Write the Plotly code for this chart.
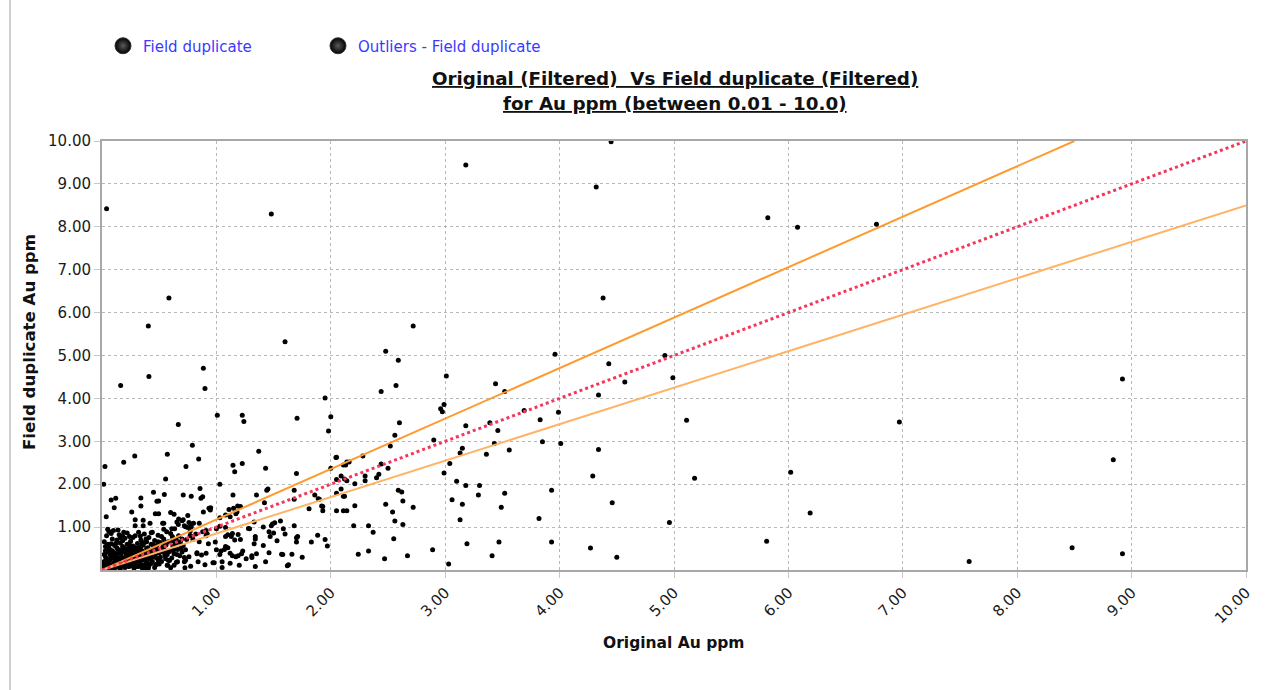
import plotly.graph_objects as go

# ---------------- data ----------------
# scattered points (Original Au ppm, Field duplicate Au ppm)
spread_x = [0.04, 1.48, 3.18, 4.45, 4.32, 5.82, 6.08, 6.77, 0.585, 4.38, 0.405, 2.72, 1.60, 2.48, 2.59, 3.96, 4.92, 4.43,
            0.886, 0.41, 3.01, 4.99, 8.92, 0.163, 2.57, 3.44, 4.57, 0.90, 2.44, 3.52, 4.34, 1.95,
            1.008, 1.226, 1.24, 1.705, 2.00, 0.667, 1.98, 2.96, 2.975, 2.99, 3.69, 3.99, 3.83, 5.11, 6.97, 2.60, 3.18, 3.39, 3.46, 2.56,
            0.79, 2.52, 2.90, 3.43, 3.85, 4.01, 3.15, 3.13, 3.36, 3.56, 4.34, 1.37, 0.286, 0.571, 2.05, 2.28, 2.045, 8.84,
            0.19, 0.845, 0.026, 0.734, 1.145, 1.226, 1.43, 2.00, 2.11, 2.14, 2.44, 2.50, 3.04, 1.16, 1.70, 2.99, 4.29, 6.02, 5.18,
            0.556, 2.09, 2.05, 2.14, 2.30, 2.30, 2.42, 2.40, 3.10, 0.015, 1.03, 2.21, 3.18, 3.30, 3.93, 2.59, 2.62, 3.52, 3.29,
            2.11, 3.06, 4.46, 2.48, 2.63, 3.15, 2.21, 2.72, 3.49, 2.11, 2.14, 2.54, 6.19, 3.82, 3.13, 2.56, 4.96, 2.63, 2.33,
            2.20, 2.37, 2.55, 5.81, 3.93, 3.47, 3.19, 4.27, 8.48, 2.89, 2.33, 8.92, 2.24, 2.67, 3.41, 4.50, 2.47, 7.58, 3.03]
spread_y = [8.42, 8.30, 9.44, 9.98, 8.93, 8.21, 7.99, 8.06, 6.34, 6.34, 5.69, 5.69, 5.32, 5.10, 4.89, 5.03, 5.00, 4.81,
            4.70, 4.51, 4.52, 4.48, 4.45, 4.30, 4.30, 4.34, 4.38, 4.23, 4.16, 4.16, 4.08, 4.01,
            3.61, 3.61, 3.46, 3.54, 3.57, 3.39, 3.24, 3.76, 3.69, 3.86, 3.72, 3.68, 3.50, 3.49, 3.45, 3.43, 3.36, 3.43, 3.25, 3.14,
            2.91, 2.89, 3.03, 2.95, 2.99, 2.95, 2.84, 2.73, 2.70, 2.80, 2.81, 2.77, 2.66, 2.70, 2.63, 2.66, 2.62, 2.57,
            2.51, 2.59, 2.41, 2.41, 2.44, 2.48, 2.37, 2.37, 2.45, 2.52, 2.47, 2.37, 2.48, 2.29, 2.25, 2.26, 2.19, 2.28, 2.14,
            2.12, 2.19, 2.11, 2.08, 2.19, 2.08, 2.23, 2.15, 2.07, 2.00, 2.00, 2.01, 1.97, 1.97, 1.86, 1.86, 1.82, 1.79, 1.75,
            1.72, 1.64, 1.57, 1.53, 1.61, 1.53, 1.50, 1.46, 1.46, 1.38, 1.38, 1.35, 1.33, 1.20, 1.17, 1.14, 1.11, 1.06, 1.03,
            1.03, 0.88, 0.73, 0.67, 0.65, 0.65, 0.61, 0.51, 0.52, 0.47, 0.44, 0.38, 0.37, 0.33, 0.33, 0.30, 0.26, 0.20, 0.14]

mid_x = [0.08, 0.12, 0.107, 0.037, 0.34, 0.34, 0.45, 0.26, 0.29, 0.29, 0.36, 0.36, 0.545, 0.495, 0.466, 0.495, 0.60, 0.63,
         0.71, 0.78, 0.88, 0.857, 0.935, 0.95, 0.886, 0.75, 0.67, 0.70, 0.61, 0.635, 0.53, 0.565, 0.42, 0.43, 0.72, 0.73,
         0.77, 0.79, 0.82, 0.88, 0.92, 0.80, 1.03, 1.00, 1.08, 1.15, 1.17, 1.12, 1.21, 1.13, 1.19, 1.28, 1.34, 1.41, 1.48,
         1.49, 1.35, 1.44, 1.45, 1.68, 1.70, 1.70, 1.53, 1.57, 1.66, 1.75, 1.63, 1.83, 1.885, 1.93, 1.93, 1.95, 1.97, 1.86,
         1.89, 1.81, 2.05, 2.09, 2.12, 2.05, 2.16, 2.13, 2.12, 1.585, 1.60, 1.50, 1.47, 1.41, 1.46, 1.35, 1.43, 1.26, 1.34,
         1.17, 1.22, 1.12, 1.12, 1.08, 1.00, 0.98, 1.05, 0.91, 0.90, 0.93, 0.83, 0.84, 0.775, 0.73, 0.73, 0.76, 0.66, 0.60,
         0.69, 0.57, 0.58, 0.48, 0.495, 0.41, 0.40, 0.37, 0.405, 0.70, 0.77, 0.61, 0.52, 0.55, 0.54, 0.655, 0.65,
         1.145, 1.186, 1.18, 1.42, 1.68, 1.68, 1.92, 1.90, 1.11, 1.08, 1.03, 1.29, 1.33, 1.46, 1.51, 1.56, 1.08, 1.10, 1.14,
         1.16, 1.21, 1.34, 1.71, 1.04, 1.07, 1.10, 1.23, 1.33, 1.14, 1.19, 1.31, 1.31, 1.20, 1.58, 1.62, 0.99,
         0.48, 0.865, 0.54, 0.54, 0.667, 0.655, 0.71, 0.76, 0.78, 0.947, 0.05, 0.18, 0.24, 0.335, 0.385, 0.615, 0.75, 0.78,
         0.85, 0.91, 0.91, 0.85, 0.795, 0.685, 0.71, 0.74, 0.83, 0.87, 0.97, 0.725, 0.62, 0.63, 0.72, 0.556, 0.575, 0.376,
         1.03, 1.05]
mid_y = [1.63, 1.67, 1.45, 1.24, 1.68, 1.49, 1.81, 1.35, 1.17, 1.03, 1.16, 1.03, 1.76, 1.61, 1.31, 1.31, 1.34, 1.30,
         1.75, 1.72, 1.71, 1.90, 1.44, 1.45, 1.35, 1.27, 1.19, 1.15, 0.96, 0.96, 1.09, 0.89, 1.09, 0.87, 1.03, 1.01,
         0.90, 0.78, 0.84, 0.89, 0.84, 1.09, 1.02, 0.96, 0.99, 1.44, 1.31, 1.24, 1.48, 0.78, 0.83, 0.97, 0.78, 1.00, 1.03,
         1.07, 1.75, 1.86, 1.89, 1.03, 0.75, 0.65, 0.68, 0.37, 0.37, 0.30, 0.12, 0.65, 0.81, 1.48, 1.38, 0.71, 0.56, 1.75,
         1.66, 1.43, 1.79, 1.89, 1.72, 1.38, 2.52, 2.45, 2.12, 0.96, 0.84, 0.86, 0.78, 0.57, 0.40, 0.38, 0.19, 0.26, 0.08,
         0.31, 0.38, 0.39, 0.16, 0.55, 0.47, 0.17, 0.06, 0.39, 0.12, 0.61, 0.38, 0.19, 0.09, 0.23, 0.47, 0.31, 0.19, 0.05,
         0.51, 0.42, 0.23, 0.14, 0.24, 0.40, 0.25, 0.08, 0.04, 0.72, 0.80, 0.68, 0.78, 0.64, 0.50, 0.36, 0.63,
         1.75, 1.49, 1.35, 1.57, 1.86, 1.65, 1.49, 1.65, 1.41, 1.28, 1.22, 0.96, 1.12, 0.89, 1.10, 1.14, 0.78, 0.82, 0.85,
         0.70, 0.71, 0.72, 0.78, 0.44, 0.48, 0.52, 0.44, 0.61, 0.33, 0.33, 0.33, 0.29, 0.11, 0.36, 0.10, 0.65,
         1.60, 1.67, 1.09, 0.95, 1.06, 1.12, 1.17, 1.11, 1.07, 1.40, 0.95, 0.79, 0.78, 0.79, 0.72, 0.78, 0.99, 1.01,
         1.09, 0.92, 0.80, 0.66, 0.71, 0.65, 0.57, 0.71, 0.40, 0.35, 0.17, 0.05, 0.47, 0.11, 0.19, 0.26, 0.11, 0.04,
         0.36, 0.19]

cluster_x = [0.01, 0.02, 0.03, 0.04, 0.05, 0.06, 0.07, 0.08, 0.09, 0.10, 0.11, 0.12, 0.13, 0.14, 0.15, 0.16, 0.17, 0.18, 0.19, 0.20,
             0.21, 0.22, 0.23, 0.24, 0.25, 0.26, 0.27, 0.28, 0.29, 0.30, 0.31, 0.32, 0.33, 0.34, 0.35, 0.36, 0.37, 0.38, 0.39, 0.40,
             0.41, 0.42, 0.43, 0.44, 0.45, 0.46, 0.47, 0.48, 0.49, 0.50, 0.02, 0.03, 0.04, 0.05, 0.06, 0.07, 0.08, 0.09, 0.10, 0.11,
             0.12, 0.13, 0.14, 0.15, 0.16, 0.17, 0.18, 0.19, 0.20, 0.21, 0.22, 0.23, 0.24, 0.25, 0.26, 0.27, 0.28, 0.29, 0.30, 0.31,
             0.32, 0.33, 0.34, 0.35, 0.36, 0.37, 0.38, 0.39, 0.40, 0.41, 0.42, 0.43, 0.44, 0.45, 0.46, 0.47, 0.48, 0.49, 0.50, 0.51,
             0.52, 0.53, 0.54, 0.55, 0.56, 0.57, 0.58, 0.59, 0.60, 0.61, 0.62, 0.63, 0.64, 0.65, 0.66, 0.67, 0.68, 0.69, 0.70, 0.72,
             0.01, 0.02, 0.03, 0.04, 0.05, 0.06, 0.07, 0.08, 0.09, 0.10, 0.11, 0.12, 0.13, 0.14, 0.15, 0.16, 0.17, 0.18, 0.19, 0.20,
             0.21, 0.22, 0.23, 0.24, 0.25, 0.26, 0.27, 0.28, 0.29, 0.30, 0.31, 0.32, 0.33, 0.34, 0.35, 0.36, 0.37, 0.38, 0.39, 0.40,
             0.02, 0.03, 0.04, 0.06, 0.08, 0.10, 0.12, 0.14, 0.16, 0.19, 0.03, 0.05, 0.07, 0.09, 0.11, 0.13, 0.15, 0.17, 0.21, 0.23,
             0.25, 0.27, 0.29, 0.31, 0.33, 0.35, 0.37, 0.41, 0.43, 0.45, 0.47, 0.49, 0.51, 0.53, 0.55, 0.57, 0.59, 0.61, 0.63, 0.65]
cluster_y = [0.02, 0.05, 0.01, 0.08, 0.03, 0.12, 0.06, 0.02, 0.10, 0.15, 0.04, 0.09, 0.18, 0.07, 0.13, 0.03, 0.22, 0.11, 0.16, 0.06,
             0.25, 0.14, 0.19, 0.09, 0.29, 0.12, 0.21, 0.04, 0.33, 0.17, 0.26, 0.08, 0.36, 0.13, 0.23, 0.30, 0.05, 0.40, 0.18, 0.27,
             0.10, 0.35, 0.44, 0.20, 0.31, 0.06, 0.38, 0.48, 0.24, 0.14, 0.20, 0.31, 0.42, 0.26, 0.52, 0.37, 0.61, 0.45, 0.28, 0.57,
             0.34, 0.70, 0.48, 0.39, 0.63, 0.31, 0.55, 0.44, 0.74, 0.36, 0.60, 0.50, 0.41, 0.67, 0.33, 0.56, 0.46, 0.80, 0.39, 0.62,
             0.51, 0.28, 0.70, 0.45, 0.58, 0.84, 0.33, 0.66, 0.52, 0.76, 0.25, 0.60, 0.88, 0.49, 0.69, 0.29, 0.57, 0.81, 0.40, 0.64,
             0.20, 0.53, 0.72, 0.34, 0.58, 0.11, 0.66, 0.43, 0.85, 0.28, 0.55, 0.38, 0.62, 0.18, 0.48, 0.80, 0.33, 0.58, 0.42, 0.29,
             0.12, 0.36, 0.15, 0.25, 0.60, 0.18, 0.47, 0.30, 0.72, 0.05, 0.40, 0.22, 0.52, 0.28, 0.82, 0.46, 0.10, 0.68, 0.27, 0.50,
             0.16, 0.86, 0.32, 0.58, 0.10, 0.45, 0.76, 0.24, 0.52, 0.08, 0.45, 0.88, 0.20, 0.54, 0.05, 0.40, 0.64, 0.14, 0.50, 0.36,
             0.66, 0.55, 0.80, 0.90, 0.85, 0.92, 0.62, 0.93, 0.75, 0.88, 0.45, 0.14, 0.24, 0.35, 0.20, 0.30, 0.22, 0.40, 0.46, 0.08,
             0.50, 0.35, 0.15, 0.35, 0.46, 0.62, 0.25, 0.42, 0.15, 0.58, 0.12, 0.66, 0.30, 0.42, 0.60, 0.36, 0.22, 0.68, 0.48, 0.70]

# reference lines: 1:1 and +/-15% envelope
line_x = [0, 10]
tolerance = 0.15
upper_x = [0, 10 * (1 - tolerance)]
upper_y = [0, 10]
lower_y = [0, 10 * (1 - tolerance)]

tick_vals = [1, 2, 3, 4, 5, 6, 7, 8, 9, 10]
tick_text = ["1.00", "2.00", "3.00", "4.00", "5.00", "6.00", "7.00", "8.00", "9.00", "10.00"]
legend_names = ["Field duplicate", "Outliers - Field duplicate"]

FONT = "DejaVu Sans"
W, H = 1287, 690
L, R, T, B = 102, 41, 141, 120
pw, ph = W - L - R, H - T - B


def px_x(p):
    return (p - L) / pw


def px_y(p):
    return (H - B - p) / ph


fig = go.Figure()

all_x = cluster_x + mid_x + spread_x
all_y = cluster_y + mid_y + spread_y
fig.add_trace(go.Scatter(x=all_x, y=all_y, mode="markers", showlegend=False,
                         marker=dict(color="black", size=5, line=dict(width=0)), hoverinfo="x+y"))

fig.add_trace(go.Scatter(x=upper_x, y=upper_y, mode="lines", showlegend=False,
                         line=dict(color="#ff9a2e", width=2), hoverinfo="skip"))
fig.add_trace(go.Scatter(x=line_x, y=lower_y, mode="lines", showlegend=False,
                         line=dict(color="#ffb366", width=2), hoverinfo="skip"))
fig.add_trace(go.Scatter(x=line_x, y=line_x, mode="lines", showlegend=False,
                         line=dict(color="#f5365a", width=3, dash="dot"), hoverinfo="skip"))

# legend entries (each in its own legend box for exact placement)
for name, lg in zip(legend_names, ["legend", "legend2"]):
    fig.add_trace(go.Scatter(x=[None], y=[None], mode="markers", name=name, legend=lg,
                             marker=dict(color="black", size=16, line=dict(color="#333", width=1),
                                         gradient=dict(type="radial", color="#5a5a5a"))))

legend_common = dict(orientation="h", xanchor="left", yanchor="middle",
                     font=dict(family=FONT, size=15, color="#3a3aff"),
                     bgcolor="rgba(0,0,0,0)", itemsizing="trace")

fig.update_layout(
    width=W, height=H,
    margin=dict(l=L, r=R, t=T, b=B, autoexpand=False),
    paper_bgcolor="white", plot_bgcolor="white",
    font=dict(family=FONT, color="#1a1a1a"),
    showlegend=True,
    legend=dict(x=px_x(103), y=px_y(46), **legend_common),
    legend2=dict(x=px_x(318), y=px_y(46), **legend_common),
    xaxis=dict(range=[0, 10], tickvals=tick_vals, ticktext=tick_text, tickangle=-45,
               showgrid=True, gridcolor="#b8b8b8", griddash="dot", gridwidth=1,
               showline=True, mirror=True, linecolor="#a8a8a8", linewidth=2,
               ticks="outside", ticklen=6, tickcolor="#c8c8c8",
               tickfont=dict(family=FONT, size=15, color="#1a1a1a"), zeroline=False),
    yaxis=dict(range=[0, 10], tickvals=tick_vals, ticktext=tick_text,
               showgrid=True, gridcolor="#b8b8b8", griddash="dot", gridwidth=1,
               showline=True, mirror=True, linecolor="#a8a8a8", linewidth=2,
               ticks="outside", ticklen=6, tickcolor="#c8c8c8",
               tickfont=dict(family=FONT, size=15, color="#1a1a1a"), zeroline=False),
    annotations=[
        dict(text="<b><u>Original (Filtered)&nbsp; Vs Field duplicate (Filtered)</u></b>", xref="paper", yref="paper",
             x=px_x(675), y=px_y(78), xanchor="center", yanchor="middle", showarrow=False,
             font=dict(family=FONT, size=18.3, color="#111")),
        dict(text="<b><u>for Au ppm (between 0.01 - 10.0)</u></b>", xref="paper", yref="paper",
             x=px_x(675), y=px_y(104), xanchor="center", yanchor="middle", showarrow=False,
             font=dict(family=FONT, size=18.3, color="#111")),
        dict(text="<b>Original Au ppm</b>", xref="paper", yref="paper",
             x=px_x(674), y=px_y(643), xanchor="center", yanchor="middle", showarrow=False,
             font=dict(family=FONT, size=15.5, color="#111")),
        dict(text="<b>Field duplicate Au ppm</b>", xref="paper", yref="paper", textangle=-90,
             x=px_x(29), y=px_y(342), xanchor="center", yanchor="middle", showarrow=False,
             font=dict(family=FONT, size=16.6, color="#111")),
    ],
    shapes=[
        dict(type="line", xref="paper", yref="paper", x0=px_x(10), x1=px_x(10), y0=px_y(0), y1=px_y(H),
             line=dict(color="#a0a0a0", width=1)),
    ],
)

fig.write_html("out.html", config={"displayModeBar": False},
               post_script="document.body.style.margin='0';")
